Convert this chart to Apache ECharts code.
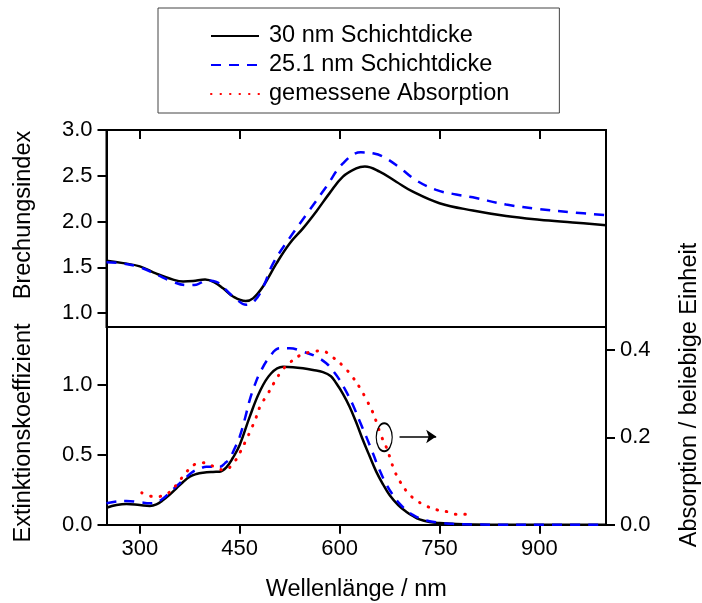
<!DOCTYPE html>
<html>
<head>
<meta charset="utf-8">
<title>Brechungsindex und Extinktionskoeffizient</title>
<script src="https://cdn.jsdelivr.net/npm/echarts@6/dist/echarts.min.js"></script>
<style>
  html, body { margin: 0; padding: 0; background: #fff; }
  #chart { width: 702px; height: 603px; }
</style>
</head>
<body>
<div id="chart"></div>
<script>
// Achsen-Ticks
var waveTicks = [300, 450, 600, 750, 900];
var nTicks = [1.0, 1.5, 2.0, 2.5, 3.0];
var kTicks = [0.0, 0.5, 1.0];
var absTicks = [0.0, 0.2, 0.4];

// Brechungsindex, 30 nm
var nWave30 = [250, 275, 300, 325, 350, 365, 380, 398, 412, 425, 440, 459, 470, 485, 505, 525, 545, 565, 585, 605, 625, 638, 660, 685, 710, 750, 800, 850, 900, 950, 1000];
var n30 = [1.57, 1.545, 1.51, 1.43, 1.365, 1.345, 1.35, 1.365, 1.335, 1.27, 1.18, 1.13, 1.16, 1.29, 1.54, 1.76, 1.925, 2.11, 2.31, 2.49, 2.58, 2.60, 2.545, 2.435, 2.326, 2.20, 2.12, 2.06, 2.02, 1.99, 1.96];

// Brechungsindex, 25.1 nm
var nWave25 = [250, 275, 300, 325, 350, 370, 385, 400, 415, 427, 442, 460, 472, 485, 500, 525, 555, 580, 605, 632, 650, 665, 690, 715, 745, 775, 800, 850, 900, 950, 1000];
var n25 = [1.555, 1.54, 1.50, 1.42, 1.34, 1.305, 1.31, 1.355, 1.34, 1.27, 1.17, 1.09, 1.13, 1.28, 1.54, 1.82, 2.125, 2.38, 2.635, 2.756, 2.745, 2.71, 2.59, 2.45, 2.345, 2.295, 2.264, 2.185, 2.136, 2.10, 2.07];

// Extinktionskoeffizient, 30 nm
var kWave30 = [250, 265, 280, 300, 315, 325, 335, 345, 355, 365, 375, 385, 395, 410, 420, 430, 440, 450, 465, 480, 497, 515, 530, 545, 560, 575, 587, 595, 605, 615, 625, 635, 645, 655, 665, 675, 688, 700, 710, 720, 735, 750, 775, 800, 850, 900, 1000];
var k30 = [0.121, 0.14, 0.148, 0.14, 0.134, 0.145, 0.176, 0.215, 0.26, 0.305, 0.343, 0.362, 0.371, 0.377, 0.379, 0.41, 0.48, 0.569, 0.77, 0.95, 1.08, 1.128, 1.125, 1.117, 1.105, 1.09, 1.06, 1.01, 0.935, 0.843, 0.73, 0.605, 0.49, 0.379, 0.29, 0.212, 0.14, 0.093, 0.062, 0.038, 0.02, 0.012, 0.005, 0.002, 0, 0, 0];

// Extinktionskoeffizient, 25.1 nm
var kWave25 = [250, 265, 280, 300, 315, 325, 335, 347, 360, 370, 380, 390, 400, 420, 428, 435, 442, 450, 458, 465, 472, 480, 495, 510, 525, 545, 565, 580, 590, 600, 610, 620, 630, 640, 650, 660, 670, 680, 690, 700, 710, 720, 735, 750, 770, 800, 850, 900, 1000];
var k25 = [0.153, 0.165, 0.169, 0.16, 0.153, 0.16, 0.188, 0.24, 0.296, 0.34, 0.379, 0.40, 0.414, 0.414, 0.44, 0.474, 0.54, 0.629, 0.76, 0.89, 0.99, 1.081, 1.2, 1.26, 1.26, 1.236, 1.2, 1.153, 1.10, 1.034, 0.95, 0.855, 0.74, 0.629, 0.51, 0.39, 0.29, 0.212, 0.15, 0.105, 0.07, 0.046, 0.025, 0.015, 0.006, 0.002, 0, 0, 0];

// gemessene Absorption (rechte Achse)
var absWave = [303, 322, 340, 356, 369, 384, 399, 411, 427, 441, 451, 460, 467, 474, 481, 492, 502, 514, 526, 541, 559, 573, 590, 606, 619, 631, 640, 649, 656, 662, 670, 676, 682, 691, 702, 714, 730, 746, 761, 774, 787, 799];
var absVal = [0.073, 0.064, 0.07, 0.093, 0.119, 0.139, 0.142, 0.133, 0.125, 0.142, 0.167, 0.195, 0.218, 0.243, 0.272, 0.299, 0.326, 0.354, 0.372, 0.388, 0.396, 0.398, 0.383, 0.362, 0.339, 0.312, 0.287, 0.260, 0.232, 0.205, 0.178, 0.152, 0.125, 0.098, 0.074, 0.057, 0.043, 0.034, 0.030, 0.024, 0.024, 0.020];

var seriesNames = ['30 nm Schichtdicke', '25.1 nm Schichtdicke', 'gemessene Absorption'];

function pairs(xs, ys) {
  return xs.map(function (x, i) { return [x, ys[i]]; });
}

(function () {
  var myChart = echarts.init(document.getElementById('chart'));
  var font = 'Liberation Sans, Arial, Helvetica, sans-serif';
  var axisLine = { show: true, lineStyle: { color: '#000', width: 2 } };
  var fix1 = function (v) { return v.toFixed(1); };

  var option = {
    animation: false,
    backgroundColor: '#fff',
    legend: {
      data: seriesNames,
      orient: 'vertical',
      left: 158,
      top: 8,
      padding: [16, 50, 7, 52],
      itemWidth: 48,
      itemHeight: 14,
      itemGap: 5,
      borderColor: '#444',
      borderWidth: 1,
      // keine Kreise im Legendensymbol, nur die Linie
      itemStyle: { opacity: 0 },
      textStyle: { fontFamily: font, fontSize: 23.5, color: '#000', padding: [0, 0, 0, 5] }
    },
    grid: [
      // oberes Feld mit Rahmen
      { left: 106.5, right: 96, top: 130, height: 197, show: true, borderColor: '#000', borderWidth: 2, backgroundColor: 'transparent' },
      { left: 106.5, right: 96, top: 327, height: 197.7 }
    ],
    xAxis: [
      {
        gridIndex: 0, type: 'value', min: 250, max: 1000, position: 'top',
        axisLine: axisLine,
        axisTick: { show: true, inside: true, length: 9, customValues: waveTicks, lineStyle: { color: '#000', width: 2 } },
        axisLabel: { show: false, customValues: waveTicks },
        splitLine: { show: false }
      },
      {
        gridIndex: 1, type: 'value', min: 250, max: 1000, position: 'bottom',
        axisLine: axisLine,
        axisTick: { show: true, length: 9, customValues: waveTicks, lineStyle: { color: '#000', width: 2 } },
        axisLabel: { customValues: waveTicks, margin: 13, fontFamily: font, fontSize: 22, color: '#000' },
        splitLine: { show: false },
        name: 'Wellenlänge / nm', nameLocation: 'middle', nameGap: 53,
        nameTextStyle: { fontFamily: font, fontSize: 23.5, color: '#000' }
      }
    ],
    yAxis: [
      {
        gridIndex: 0, type: 'value', min: 0.847, max: 3.0,
        axisLine: axisLine,
        axisTick: { show: true, length: 9, customValues: nTicks, lineStyle: { color: '#000', width: 2 } },
        axisLabel: { customValues: nTicks, formatter: fix1, margin: 14, fontFamily: font, fontSize: 22, color: '#000' },
        splitLine: { show: false }
      },
      {
        gridIndex: 1, type: 'value', min: 0, max: 1.412,
        axisLine: axisLine,
        axisTick: { show: true, length: 9, customValues: kTicks, lineStyle: { color: '#000', width: 2 } },
        axisLabel: { customValues: kTicks, formatter: fix1, margin: 14, fontFamily: font, fontSize: 22, color: '#000' },
        splitLine: { show: false }
      },
      {
        gridIndex: 1, type: 'value', min: 0, max: 0.4526, position: 'right',
        axisLine: axisLine,
        axisTick: { show: true, length: 9, customValues: absTicks, lineStyle: { color: '#000', width: 2 } },
        axisLabel: { customValues: absTicks, formatter: fix1, margin: 14, fontFamily: font, fontSize: 22, color: '#000' },
        splitLine: { show: false }
      }
    ],
    graphic: [
      {
        type: 'text', x: 24, y: 215, rotation: Math.PI / 2,
        style: { text: 'Brechungsindex', fontFamily: font, fontSize: 23.5, fill: '#000', align: 'center', verticalAlign: 'middle', textAlign: 'center', textVerticalAlign: 'middle' }
      },
      {
        type: 'text', x: 24, y: 433, rotation: Math.PI / 2,
        style: { text: 'Extinktionskoeffizient', fontFamily: font, fontSize: 23.5, fill: '#000', align: 'center', verticalAlign: 'middle', textAlign: 'center', textVerticalAlign: 'middle' }
      },
      {
        type: 'text', x: 690, y: 395, rotation: Math.PI / 2,
        style: { text: 'Absorption / beliebige Einheit', fontFamily: font, fontSize: 23.5, fill: '#000', align: 'center', verticalAlign: 'middle', textAlign: 'center', textVerticalAlign: 'middle' }
      }
    ],
    series: [
      {
        name: seriesNames[0], type: 'line', xAxisIndex: 0, yAxisIndex: 0,
        data: pairs(nWave30, n30), smooth: 0.4, symbol: 'none',
        lineStyle: { color: '#000', width: 2.5 }, itemStyle: { color: '#000' }
      },
      {
        name: seriesNames[1], type: 'line', xAxisIndex: 0, yAxisIndex: 0,
        data: pairs(nWave25, n25), smooth: 0.4, symbol: 'none',
        lineStyle: { color: '#0000ff', width: 2.5, type: [10, 8] }, itemStyle: { color: '#0000ff' }
      },
      {
        name: seriesNames[0], type: 'line', xAxisIndex: 1, yAxisIndex: 1,
        data: pairs(kWave30, k30), smooth: 0.4, symbol: 'none',
        lineStyle: { color: '#000', width: 2.5 }, itemStyle: { color: '#000' }
      },
      {
        name: seriesNames[1], type: 'line', xAxisIndex: 1, yAxisIndex: 1,
        data: pairs(kWave25, k25), smooth: 0.4, symbol: 'none',
        lineStyle: { color: '#0000ff', width: 2.5, type: [10, 8] }, itemStyle: { color: '#0000ff' }
      },
      {
        name: seriesNames[2], type: 'line', xAxisIndex: 1, yAxisIndex: 2,
        data: pairs(absWave, absVal), smooth: 0.4, symbol: 'none',
        lineStyle: { color: '#ff0000', width: 3, type: [0.5, 9], cap: 'round' }, itemStyle: { color: '#ff0000' },
        // Markierung: Kurve gehört zur rechten Achse
        markPoint: {
          silent: true, symbol: 'circle', symbolSize: [16, 28],
          itemStyle: { color: 'rgba(0,0,0,0)', borderColor: '#000', borderWidth: 1.5 },
          label: { show: false },
          data: [{ coord: [667, 0.2] }]
        },
        markLine: {
          silent: true, symbol: ['none', 'arrow'], symbolSize: 10,
          lineStyle: { color: '#000', type: 'solid', width: 1.5 },
          label: { show: false },
          data: [[{ coord: [690, 0.202] }, { coord: [745, 0.202] }]]
        }
      }
    ]
  };

  myChart.setOption(option);
  window.addEventListener('resize', function () {
    myChart.resize();
  });
})();
</script>
</body>
</html>
